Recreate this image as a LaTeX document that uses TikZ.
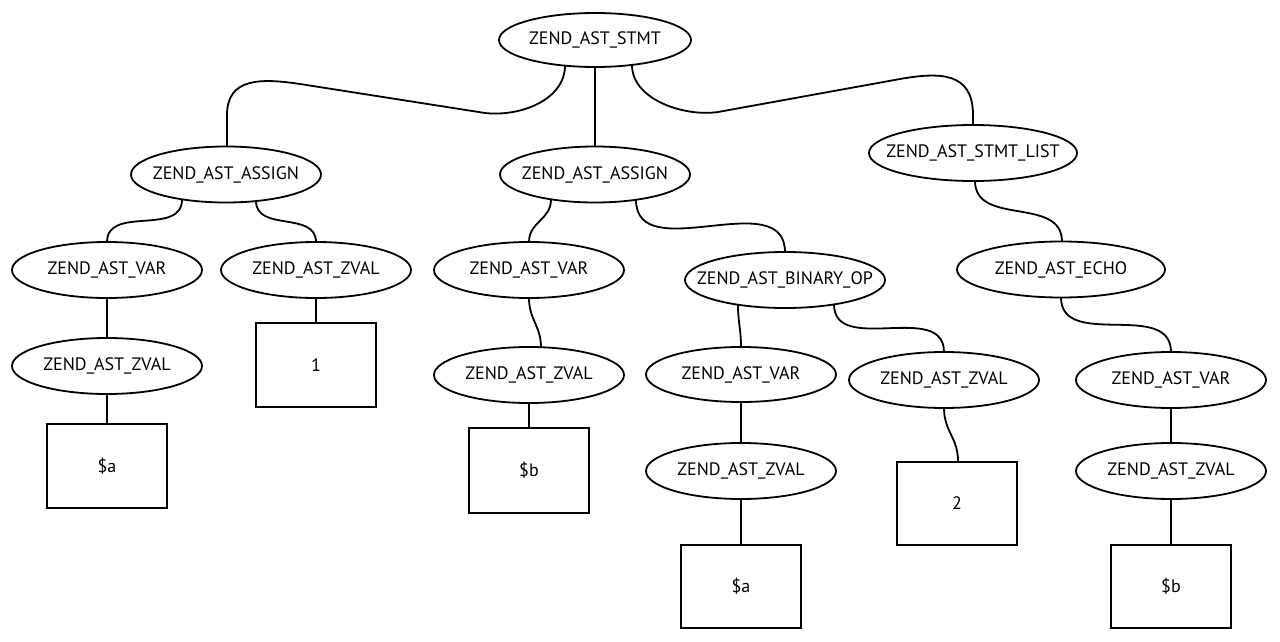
\documentclass[tikz,border=0pt]{standalone}
\usepackage{fontspec}
\setmainfont{PT Sans}
\usetikzlibrary{shapes.geometric,backgrounds}
\newcommand{\zlbl}[1]{\makebox[0pt][c]{#1}}
\begin{document}
\begin{tikzpicture}[x=1pt,y=-1pt,
  lbl/.style={font=\fontsize{18}{21}\selectfont},
  el/.style={ellipse,draw,line width=1.8pt,fill=white,inner sep=0pt,
    minimum width=190pt,minimum height=56pt,lbl},
  bx/.style={rectangle,draw,line width=1.8pt,fill=white,inner sep=0pt,
    minimum width=120pt,minimum height=84pt,lbl},
  ed/.style={line width=1.8pt},
  sc/.style={out=-90,in=90,looseness=1.1}]
\useasboundingbox (0,0) rectangle (1280,642);
% nodes
\node[el,minimum width=192pt,minimum height=54pt] (stmt) at (595,40) {\zlbl{ZEND\_AST\_STMT}};
\node[el] (assign1) at (226,174.5) {\zlbl{ZEND\_AST\_ASSIGN}};
\node[el] (assign2) at (595,174.5) {\zlbl{ZEND\_AST\_ASSIGN}};
\node[el,minimum width=208pt] (stmtlist) at (973,153) {\zlbl{ZEND\_AST\_STMT\_LIST}};
\node[el] (var1) at (107,270) {\zlbl{ZEND\_AST\_VAR}};
\node[el] (zval1) at (316,270) {\zlbl{ZEND\_AST\_ZVAL}};
\node[el] (var2) at (529,270) {\zlbl{ZEND\_AST\_VAR}};
\node[el,minimum width=200pt] (binop) at (785,280) {\zlbl{ZEND\_AST\_BINARY\_OP}};
\node[el,minimum width=208pt] (echo) at (1061,269.5) {\zlbl{ZEND\_AST\_ECHO}};
\node[el] (zvalA1) at (107,366) {\zlbl{ZEND\_AST\_ZVAL}};
\node[bx] (box1) at (316,365) {1};
\node[bx] (boxA1) at (107,466) {\$a};
\node[el] (zval2) at (529,375) {\zlbl{ZEND\_AST\_ZVAL}};
\node[bx,minimum height=85pt] (boxB1) at (529,470.5) {\$b};
\node[el,minimum height=55pt] (var3) at (741,374.5) {\zlbl{ZEND\_AST\_VAR}};
\node[el] (zval3) at (944,380) {\zlbl{ZEND\_AST\_ZVAL}};
\node[el] (zvalA2) at (741,471) {\zlbl{ZEND\_AST\_ZVAL}};
\node[bx,minimum height=83pt] (box2) at (957,503.5) {2};
\node[bx,minimum height=83pt] (boxA2) at (741,586.5) {\$a};
\node[el] (var4) at (1171,380) {\zlbl{ZEND\_AST\_VAR}};
\node[el] (zval4) at (1171,471) {\zlbl{ZEND\_AST\_ZVAL}};
\node[bx,minimum height=83pt] (boxB2) at (1171,586.5) {\$b};
% connectors
\begin{scope}[on background layer]
\draw[ed] ([xshift=-30pt,yshift=2.5pt]stmt.south) .. controls (565,100) and (520,117) .. (485,113)
   -- (300,84) .. controls (260,78) and (227,78) .. (227,115) -- ([xshift=1pt,yshift=-2pt]assign1.north);
\draw[ed] ([xshift=37pt,yshift=3pt]stmt.south) .. controls (632,100) and (685,117) .. (718,112)
   -- (900,79) .. controls (940,72) and (973,72) .. (973,115) -- ([yshift=-2pt]stmtlist.north);
\draw[ed] ([yshift=1pt]stmt.south) -- ([yshift=-1pt]assign2.north);
\draw[ed] ([xshift=-44pt,yshift=4pt]assign1.south) to[sc] ([yshift=-1pt]var1.north);
\draw[ed] ([xshift=30pt,yshift=2.5pt]assign1.south) to[sc] ([yshift=-1pt]zval1.north);
\draw[ed] ([xshift=-44pt,yshift=4pt]assign2.south) to[sc] ([yshift=-1pt]var2.north);
\draw[ed] ([xshift=41pt,yshift=3.5pt]assign2.south) to[sc] ([yshift=-1pt]binop.north);
\draw[ed] ([xshift=2pt,yshift=1pt]stmtlist.south) to[sc] ([xshift=1pt,yshift=-1pt]echo.north);
\draw[ed] ([yshift=1pt]var1.south) -- ([yshift=-1pt]zvalA1.north);
\draw[ed] ([yshift=1pt]zval1.south) -- (box1.north);
\draw[ed] ([yshift=1pt]zvalA1.south) -- (zvalA1.south |- boxA1.north);
\draw[ed] ([yshift=1pt]var2.south) to[sc] ([xshift=12pt,yshift=-1.5pt]zval2.north);
\draw[ed] ([yshift=1pt]zval2.south) -- (zval2.south |- boxB1.north);
\draw[ed] ([xshift=-47pt,yshift=4.3pt]binop.south) to[sc] ([yshift=-1pt]var3.north);
\draw[ed] ([xshift=49pt,yshift=4.6pt]binop.south) to[sc] ([yshift=-1pt]zval3.north);
\draw[ed] ([yshift=1pt]var3.south) -- ([yshift=-1pt]zvalA2.north);
\draw[ed] ([yshift=1pt]zvalA2.south) -- (zvalA2.south |- boxA2.north);
\draw[ed] ([yshift=1pt]zval3.south) to[sc] ([xshift=1pt]box2.north);
\draw[ed] ([yshift=1pt]echo.south) to[sc] ([yshift=-1pt]var4.north);
\draw[ed] ([yshift=1pt]var4.south) -- ([yshift=-1pt]zval4.north);
\draw[ed] ([yshift=1pt]zval4.south) -- (zval4.south |- boxB2.north);
\end{scope}
\end{tikzpicture}
\end{document}
